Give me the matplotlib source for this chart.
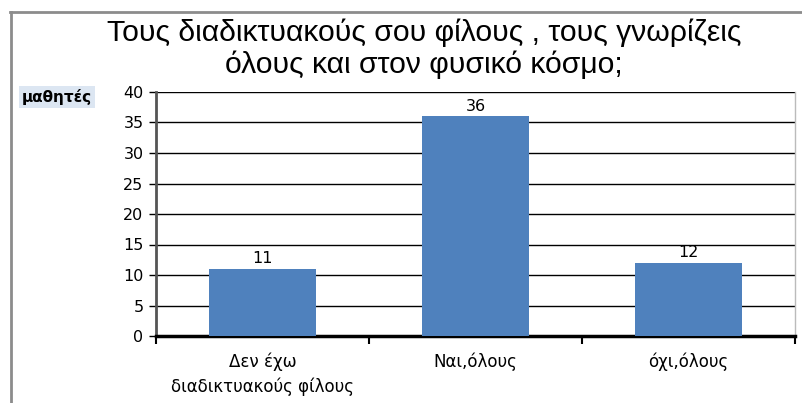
import matplotlib
matplotlib.use("Agg")
import matplotlib.pyplot as plt
from matplotlib.lines import Line2D

categories = ["Δεν έχω\nδιαδικτυακούς φίλους", "Ναι,όλους", "όχι,όλους"]
values = [11, 36, 12]
yticks = [0, 5, 10, 15, 20, 25, 30, 35, 40]
title = "Τους διαδικτυακούς σου φίλους , τους γνωρίζεις\nόλους και στον φυσικό κόσμο;"
ylabel = "μαθητές"

fig = plt.figure(figsize=(8.02, 4.03), dpi=100)
fig.patch.set_facecolor("white")

# outer frame (top and left gray lines)
fig.add_artist(Line2D([10/802, 1], [1-12/403, 1-12/403], color="#8c8c8c", lw=2, transform=fig.transFigure))
fig.add_artist(Line2D([11/802, 11/802], [0, 1-12/403], color="#8c8c8c", lw=2, transform=fig.transFigure))

ax = fig.add_axes([156/802, 1-336/403, (795-156)/802, (336-92)/403])
x = list(range(len(categories)))
ax.bar(x, values, width=0.5, color="#4F81BD", zorder=3)
ax.set_xlim(-0.5, len(categories)-0.5)
ax.set_ylim(0, 40)
ax.set_yticks(yticks)
ax.set_yticklabels([str(v) for v in yticks], fontsize=11.5, family="DejaVu Sans")
ax.yaxis.grid(True, color="black", lw=1, zorder=0)
ax.set_axisbelow(True)
ax.set_xticks([i - 0.5 for i in range(len(categories)+1)])
ax.set_xticklabels([])
ax.set_xticks(x, minor=True)
ax.set_xticklabels(categories, minor=True, fontsize=12, family="DejaVu Sans", linespacing=1.45)
ax.tick_params(axis="x", which="minor", length=0, pad=12)
ax.tick_params(axis="x", which="major", length=6, width=1.5, direction="out")
ax.tick_params(axis="y", length=5, width=1, direction="out", pad=4)
ax.spines["top"].set_visible(False)
ax.spines["right"].set_color("#bbbbbb")
ax.spines["right"].set_linewidth(1)
ax.spines["left"].set_color("#555555")
ax.spines["left"].set_linewidth(2)
ax.spines["bottom"].set_color("black")
ax.spines["bottom"].set_linewidth(2.5)

for xi, v in zip(x, values):
    ax.text(xi, v + 0.4, str(v), ha="center", va="bottom", fontsize=11.5, family="DejaVu Sans")

fig.text(424/802, 1-49/403, title, ha="center", va="center", fontsize=21.7,
         family=["Liberation Sans", "DejaVu Sans"], linespacing=1.15)

fig.text(57/802, 1-97/403, ylabel, ha="center", va="center", fontsize=11, fontweight="bold",
         family="DejaVu Sans",
         bbox=dict(boxstyle="square,pad=0.22", facecolor="#DCE6F2", edgecolor="none"))

fig.savefig("out.png", dpi=100)
